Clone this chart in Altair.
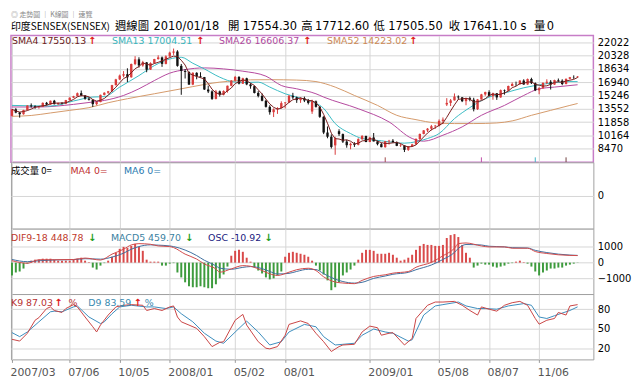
import altair as alt
import pandas as pd

FONT = "DejaVu Sans, Noto Sans CJK TC, sans-serif"
CJK = "Noto Sans CJK TC, DejaVu Sans, sans-serif"

# ---------------- data (weekly, index 0 = 2007/03/23) ----------------
opens = [12650,13478,13072,12859,13385,13966,13862,13765,13797,14304,14085,14570,14140,14280,14190,14651,14960,15150,15530,15235,
         14840,14700,14140,14400,15320,15590,15770,16560,17290,17770,17950,17560,19240,19840,19060,19450,18520,19360,19870,20080,
         19260,20210,20690,20830,19010,18360,18240,16630,18120,17680,17580,16000,15760,14810,15760,15340,15810,16480,17130,17600,
         16740,17430,16650,16420,15570,15190,14570,13800,13120,13470,13640,14270,14350,15200,15000,14650,14900,14600,13200,14500,
         13800,12530,10530,10000,8900,10700,10330,9380,8920,9090,8970,9690,10100,9330,9900,9400,9050,8670,9420,9490,
         9300,8840,8890,8330,8760,9020,9710,10350,10800,11020,11330,11400,12010,14100,14300,14620,15100,15000,14520,14900,
         14700,13500,14740,15380,15670,15160,15520,15000,15920,15850,16450,16700,16690,17130,16640,17330,16810,15900,16160,16850,
         16990,16630,17200,17120,16700,17360,17560,17554.30]
highs = [13520,13630,13140,13420,14000,14230,13990,13920,14360,14420,14600,14680,14350,14400,14680,15000,15200,15620,15870,15300,
         15000,14760,14450,15350,15650,15820,16600,17360,17900,18340,18700,19300,20240,20100,19650,19500,19450,19900,20350,20200,
         20350,20810,21210,21000,19250,18600,18300,18200,18200,18200,17600,16500,15900,15950,15870,15900,16500,17200,17730,17700,
         17500,17500,16800,16500,15800,15500,14700,14000,13600,13750,14500,14400,15300,15580,15100,15000,15100,14800,14700,14600,
         13900,12600,11300,10300,10000,10950,10400,9600,9250,9300,9800,10190,10120,10000,10470,9500,9200,9450,9600,9700,
         9400,9100,8900,8800,9100,9800,10400,10850,11100,11500,11500,12200,12450,14900,14800,15500,15250,15050,14950,15100,
         14950,14800,15450,15730,15900,15600,15550,16000,16000,16500,16900,17000,17200,17300,17400,17500,16900,16300,16900,17300,
         17200,17250,17400,17300,17400,17600,17800,17712.60]
lows = [12590,12980,12425,12800,13350,13700,13550,13560,13780,14000,14050,14100,14030,14100,14150,14600,14900,15100,15150,14700,
        14600,13780,14000,14380,15250,15450,15700,16500,17200,17560,16950,17500,19100,18800,18900,18200,18500,19300,19800,18880,
        19200,20150,20400,18900,15330,17400,16580,16550,17300,17500,15950,15550,14680,14750,15100,15250,15600,16400,17000,16650,
        16700,16550,16100,15500,15000,14500,13700,12800,12500,12900,13600,13600,14300,14800,14300,14300,14400,14100,12900,13700,
        12400,10330,9800,8500,7700,10100,9200,8600,8400,8700,8900,9600,9300,9300,9400,8900,8650,8600,9000,9250,
        8800,8700,8050,8200,8700,9000,9500,10300,10600,10800,11000,11300,11600,13900,13900,14600,14700,14400,14000,14500,
        13220,13400,14700,15200,15100,14700,14680,14950,15350,15800,16400,16450,16600,16600,16600,16700,15800,15400,16100,16700,
        16000,16600,16950,16550,16650,17300,17350,17505.50]
closes = [13478,13072,12859,13385,13966,13862,13765,13797,14304,14085,14570,14140,14280,14190,14651,14960,15150,15530,15235,14840,
          14700,14140,14400,15320,15590,15770,16560,17290,17770,17950,17560,19240,19840,19060,19450,18520,19360,19870,20080,19260,
          20210,20690,20830,19010,18360,18240,16630,18120,17680,17580,16000,15760,14810,15760,15340,15810,16480,17130,17600,16740,
          17430,16650,16420,15570,15190,14570,13800,13120,13470,13640,14270,14350,15200,15000,14650,14900,14600,14300,14500,13800,
          12530,10530,10000,8700,9790,10330,9380,8920,9090,8970,9690,10100,9330,9900,9400,9050,8670,9420,9490,9300,
          8840,8890,8330,8760,9020,9710,10350,10800,11020,11330,11400,12010,12170,14300,14620,15100,15000,14520,14900,14700,
          13500,14740,15380,15670,15160,15520,15000,15920,15850,16450,16700,16690,17130,16640,17330,16810,15900,16160,16850,16990,
          16630,17200,17120,16700,17360,17560,17540,17641.10]
volume = [0] * 148

sma13_idx = [0,10,16,21,24,28,33,37,41,44,47,50,54,58,61,64,67,71,74,77,81,84,88,91,96,100,102,105,108,111,115,119,124,128,133,136,140,145,147]
sma13_val = [13980,13900,14540,15040,15100,16310,17770,19040,19880,20100,19340,18620,17570,16940,16900,16940,16310,15460,15040,14610,13600,11670,10400,9770,9480,9230,9180,9355,9770,10400,12300,13700,15040,15550,16220,16510,16810,17010,17004.51]
sma26_idx = [0,7,16,21,24,29,33,37,41,45,50,55,60,66,70,74,79,81,90,98,104,107,112,117,122,128,133,137,141,147]
sma26_val = [13780,13780,14110,14410,14610,15245,16090,17140,18080,18530,18750,18620,18330,17700,16510,16090,15460,15040,13560,11880,9770,9430,10190,11250,12720,13980,15245,16090,16310,16606.37]
sma52_idx = [0,5,10,15,20,25,30,37,44,50,54,58,62,67,74,79,84,89,95,100,105,110,115,120,126,130,135,140,145,147]
sma52_val = [12590,12700,13020,13350,13690,14320,14830,15460,16090,16640,16940,17100,17230,17250,17200,17010,16310,15245,13980,12720,12170,11760,11670,11670,11750,12010,12720,13350,13980,14223.02]

event_idx = [97, 122, 136, 144]
event_col = ["#a04848", "#c050a8", "#40b4c4", "#704040"]

osc_val = [-813,-625,-563,-375,-63,125,188,188,250,250,250,188,125,125,125,125,188,250,313,125,
           31,-313,-438,-188,-31,125,375,625,875,1000,938,1063,1188,1000,750,188,63,63,63,-188,
           -188,-63,-31,-625,-938,-1250,-1500,-1563,-1563,-1500,-1563,-1625,-1625,-1375,-1000,-750,-250,438,750,813,
           688,313,63,-313,-500,-688,-938,-1063,-1000,-813,-563,375,625,688,625,563,500,375,125,-188,
           -500,-750,-1125,-1750,-1563,-1250,-813,-625,-438,-188,188,625,813,813,750,563,563,563,625,500,
           313,125,188,313,500,813,1063,1188,1125,1125,1063,1063,1125,1563,1750,1813,1625,1125,625,313,
           -313,-188,-63,-125,-125,-250,-313,-250,-188,-63,-31,63,125,31,-63,-250,-563,-813,-625,-500,
           -375,-375,-313,-313,-188,-125,-63,-13]
dif_idx = [0,4,7,11,16,19,23,26,29,31,33,36,38,41,42,45,48,50,53,54,57,60,62,65,67,69,72,74,77,79,81,84,86,89,91,94,97,99,103,105,109,112,115,116,118,122,124,128,130,134,136,139,142,145,147]
dif_val = [123,-40,185,185,200,290,165,540,850,1123,1206,1165,1060,1019,956,540,227,-85,-398,-606,-398,-190,-231,-502,-710,-815,-606,-450,-356,-502,-900,-1231,-1294,-1335,-1127,-877,-773,-669,-565,-294,19,435,915,1206,1248,1060,998,998,915,915,706,581,498,460,448.78]
macd_idx = dif_idx
macd_val = [200,60,120,170,190,250,220,350,600,850,1020,1130,1110,1060,1020,800,450,150,-200,-350,-420,-300,-250,-380,-560,-720,-680,-560,-420,-440,-700,-1050,-1200,-1300,-1250,-1000,-850,-740,-620,-450,-150,200,650,900,1150,1120,1040,1000,950,930,780,640,540,480,459.70]

k_idx = [0,2,4,6,7,9,10,11,13,14,16,17,19,21,22,23,25,27,29,31,34,35,37,39,41,42,43,44,46,48,50,52,54,55,58,60,61,64,66,67,69,71,72,75,77,79,81,83,85,86,89,91,93,95,96,98,99,102,104,105,108,110,112,115,117,119,121,122,124,126,128,130,132,134,136,137,139,141,142,144,145,147]
k_val = [33.7,31,43,63,67,81,83.5,78,75,81,87,83.5,68,53,45,55.6,71,83.5,86,87,86,78,81,78,83.5,85,68,60.6,55.6,50.5,37.8,22.5,29,30,63,72,55.6,30,20,19,22.5,40,56.6,62,58,43,30,15,22.5,25,26,45,54,51.5,40,43,44,25,35,65.7,86,91,91,92,86,78,71,83.5,80,77,86,90,92,86,65.7,57,63,65.7,75,71,85,87.03]
d_idx = [0,2,4,7,10,11,13,16,17,20,23,24,26,28,31,35,37,40,42,44,47,50,53,55,59,61,64,67,70,72,76,79,81,84,86,89,91,94,97,99,103,104,107,110,112,116,118,121,123,126,129,133,135,137,139,141,145,147]
d_val = [44,37.8,45,60.6,76,77,76,83.5,85,68,58,60.6,73,83.5,86,83.5,83.5,81,83.5,73,60.6,43,31,27.6,50.5,61.6,45,25,30,45,56.6,53,37.8,25,26,27.6,40,49.5,45,43,31,33,71,85,87,91,85,81,81,80,85,88.6,86,68,65.7,70,78,83.59]

tick_idx = [0, 15, 28, 41, 58, 71, 93, 111, 124, 137]
tick_lab = ["2007/03", "07/06", "10/05", "2008/01", "05/02", "08/01", "2009/01", "05/08", "08/07", "11/06"]
price_ticks = [8470, 10164, 11858, 13552, 15246, 16940, 18634, 20328, 22022]
vol_ticks = [0]
macd_ticks = [-1000, 0, 1000]
kd_ticks = [20, 50, 80]

# ---------------- frames ----------------
n = len(closes)
pdf = pd.DataFrame({"i": list(range(n)), "o": opens, "h": highs, "l": lows, "c": closes})
vdf = pd.DataFrame({"i": list(range(n)), "vol": volume})
odf = pd.DataFrame({"i": list(range(n)), "osc": osc_val, "zero": [0] * n})
def sdf(idx, val):
    return pd.DataFrame({"i": idx, "v": val})
evdf = pd.DataFrame({"i": event_idx, "col": event_col})
dummy = pd.DataFrame({"d": [0]})

# ---------------- styles ----------------
W = 588
GRID = "#d6d6d6"
UP, DN = "#d93b3b", "#111111"
xs = alt.Scale(domain=[-0.26, 151.1], nice=False, zero=False)
lab_expr = "[" + ",".join("'%s'" % t for t in tick_lab) + "][indexof([" + ",".join(str(t) for t in tick_idx) + "], datum.value)]"

def xaxis(show):
    if show:
        return alt.Axis(values=tick_idx, grid=True, gridColor=GRID, labelExpr=lab_expr, labelAlign="left",
                        labelOffset=-2, labelPadding=4, labelFont=FONT, labelFontSize=11, labelColor="#555",
                        tickSize=3, tickColor="#999", domain=False, title=None)
    return alt.Axis(values=tick_idx, grid=True, gridColor=GRID, labels=False, ticks=False, domain=False, title=None)

def yaxis(vals):
    return alt.Axis(orient="right", values=vals, grid=True, gridColor=GRID, labelFont=FONT, labelFontSize=10,
                    labelColor="#000", labelPadding=4, ticks=False, domain=False, title=None, format="d")

def txt(t, x, y, color, size=9.5, weight="normal", align="left", font=FONT):
    return alt.Chart(dummy).mark_text(text=t, align=align, baseline="middle", font=font, fontSize=size,
                                      color=color, fontWeight=weight).encode(x=alt.value(x), y=alt.value(y))

def arrow(t, x, y, color):
    return txt(t, x, y, color, size=10, weight="bold", align="center")

# ---------------- header (drawn above the price panel) ----------------
HY = -9
header = [
    txt("◎ 走勢圖 │ K線圖 │ 速覽", 0, -21, "#888", size=7, font=CJK),
    txt("印度SENSEX(SENSEX)", 0, HY, "#000", size=10, font=CJK),
    txt("週線圖", 105, HY, "#000", size=11.5, font=CJK),
    txt("2010/01/18", 144, HY, "#000", size=11.5),
    txt("開", 219, HY, "#000", size=11.5, font=CJK),
    txt("17554.30", 234, HY, "#000", size=11.5),
    txt("高", 293, HY, "#000", size=11.5, font=CJK),
    txt("17712.60", 307, HY, "#000", size=11.5),
    txt("低", 366, HY, "#000", size=11.5, font=CJK),
    txt("17505.50", 381, HY, "#000", size=11.5),
    txt("收", 442, HY, "#000", size=11.5, font=CJK),
    txt("17641.10 s", 456, HY, "#000", size=11.5),
    txt("量", 528, HY, "#000", size=11.5, font=CJK),
    txt("0", 541, HY, "#000", size=11.5),
]

# ---------------- price panel ----------------
ps = alt.Scale(domain=[6745, 22866], nice=False, zero=False)
pX = alt.X("i:Q", scale=xs, axis=xaxis(False))
pY = yaxis(price_ticks)
ccol = alt.condition("datum.c >= datum.o", alt.value(UP), alt.value(DN))
wick = alt.Chart(pdf).mark_rule(strokeWidth=1).encode(x=pX, y=alt.Y("l:Q", scale=ps, axis=pY), y2="h:Q", color=ccol)
body = alt.Chart(pdf).mark_rule(strokeWidth=2.4).encode(x=pX, y=alt.Y("o:Q", scale=ps, axis=pY), y2="c:Q", color=ccol)
sma4 = alt.Chart(pdf).transform_window(sma4="mean(c)", frame=[-3, 0], sort=[{"field": "i"}]).mark_line(
    color="#7a1e1e", strokeWidth=1).encode(x=pX, y=alt.Y("sma4:Q", scale=ps, axis=pY))
def sline(idx, val, color):
    return alt.Chart(sdf(idx, val)).mark_line(color=color, strokeWidth=1, interpolate="monotone").encode(
        x=pX, y=alt.Y("v:Q", scale=ps, axis=pY))
ev = alt.Chart(evdf).mark_rule(strokeWidth=1).encode(x=pX, y=alt.value(123), y2=alt.value(128),
                                                     color=alt.Color("col:N", scale=None))
price = alt.layer(
    sline(sma52_idx, sma52_val, "#d49a6a"), sline(sma26_idx, sma26_val, "#b4489e"),
    sline(sma13_idx, sma13_val, "#3cbcc4"), wick, body, sma4, ev,
    txt("SMA4 17550.13", 1, 6, "#6b2020"), arrow("↑", 82, 6, "#e02020"),
    txt("SMA13 17004.51", 102, 6, "#3ab5bd"), arrow("↑", 191, 6, "#e02020"),
    txt("SMA26 16606.37", 210, 6, "#b04a9f"), arrow("↑", 299, 6, "#e02020"),
    txt("SMA52 14223.02", 319, 6, "#cc8855"), arrow("↑", 406, 6, "#e02020"),
    *header,
).properties(width=W, height=128, view=alt.ViewBackground(stroke="#c77dc7", strokeWidth=1.5))

# ---------------- volume panel ----------------
vX = alt.X("i:Q", scale=xs, axis=xaxis(False))
vol = alt.layer(
    alt.Chart(vdf).mark_point(opacity=0).encode(x=vX, y=alt.Y("vol:Q", scale=alt.Scale(domain=[-1, 1]), axis=yaxis(vol_ticks))),
    txt("成交量 0=", 0, 9, "#000", font=CJK), txt("MA4 0=", 60, 9, "#c03030"), txt("MA6 0=", 114, 9, "#2a7ab0"),
).properties(width=W, height=67, view=alt.ViewBackground(stroke="#a0a0a0"))

# ---------------- MACD panel ----------------
ms = alt.Scale(domain=[-1994, 2157], nice=False, zero=False)
mX = alt.X("i:Q", scale=xs, axis=xaxis(False))
mY = yaxis(macd_ticks)
hist = alt.Chart(odf).mark_rule(strokeWidth=2).encode(
    x=mX, y=alt.Y("osc:Q", scale=ms, axis=mY), y2="zero:Q",
    color=alt.condition("datum.osc > 0", alt.value("#d94a4a"), alt.value("#3d9b3d")))
def mline(idx, val, color):
    return alt.Chart(sdf(idx, val)).mark_line(color=color, strokeWidth=1, interpolate="monotone").encode(
        x=mX, y=alt.Y("v:Q", scale=ms, axis=mY))
macd = alt.layer(
    hist, mline(macd_idx, macd_val, "#3f6f9f"), mline(dif_idx, dif_val, "#d04a4a"),
    txt("DIF9-18 448.78", 0, 9, "#c0392b"), arrow("↓", 82, 9, "#1e9e1e"),
    txt("MACD5 459.70", 101, 9, "#3a7f9f"), arrow("↓", 180, 9, "#1e9e1e"),
    txt("OSC -10.92", 199, 9, "#202080"), arrow("↓", 260, 9, "#1e9e1e"),
).properties(width=W, height=66, view=alt.ViewBackground(stroke="#a0a0a0"))

# ---------------- KD panel ----------------
ks = alt.Scale(domain=[2.8, 103.3], nice=False, zero=False)
kX = alt.X("i:Q", scale=xs, axis=xaxis(True))
kY = yaxis(kd_ticks)
def kline(idx, val, color):
    return alt.Chart(sdf(idx, val)).mark_line(color=color, strokeWidth=1).encode(
        x=kX, y=alt.Y("v:Q", scale=ks, axis=kY))
kd = alt.layer(
    kline(d_idx, d_val, "#3c8dbd"), kline(k_idx, k_val, "#c94444"),
    txt("K9 87.03", 0, 9, "#b83232"), arrow("↑", 48, 9, "#e02020"), txt("%", 58, 9, "#b83232"),
    txt("D9 83.59", 78, 9, "#3a8ab0"), arrow("↑", 128, 9, "#e02020"), txt("%", 135, 9, "#3a8ab0"),
).properties(width=W, height=66, view=alt.ViewBackground(stroke="#a0a0a0"))

chart = alt.vconcat(price, vol, macd, kd, spacing=0, bounds="flush").properties(
    padding=0,
).configure(background="white").configure_view(fill="white")

chart.save("out.html", embed_options={"renderer": "svg", "actions": False})
